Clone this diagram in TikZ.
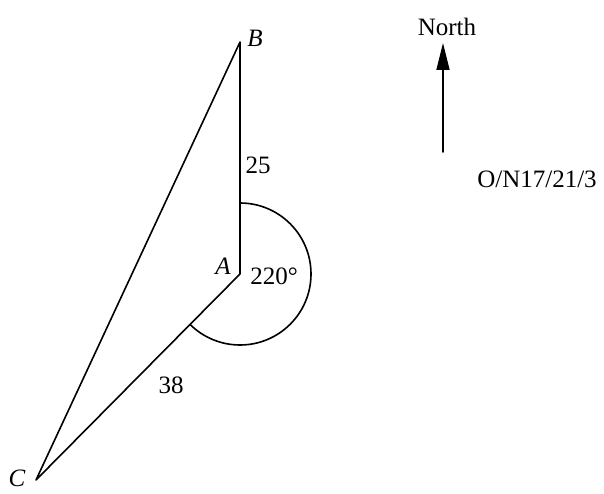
\documentclass[tikz,border=0pt]{standalone}
\usepackage{fontspec}
\setmainfont{Liberation Serif}
\usetikzlibrary{arrows.meta}
\begin{document}
\begin{tikzpicture}[x=1pt,y=1pt,
  edge/.style={line width=1.6pt, line cap=round, line join=round},
  lbl/.style={font=\fontsize{25}{28}\selectfont, inner sep=0pt}]
\useasboundingbox (0,0) rectangle (604,493);
\coordinate (A) at (240,219);
\coordinate (B) at (240,451);
\coordinate (C) at (36,13);
\draw[edge] (B) -- (A) -- (C) -- cycle;
\draw[edge] ([shift={(0,71)}]A) arc[start angle=90, end angle=-134.4, radius=71];
\coordinate (N1) at (443,341);
\coordinate (N2) at (443,450);
\draw[edge, -{Triangle[length=27pt,width=13pt]}] (N1) -- (N2);
\node[lbl] (lB) at (255,455) {\textit{B}};
\node[lbl] (lA) at (223,227) {\textit{A}};
\node[lbl] (lang) at (274,217) {220°};
\node[lbl] (l25) at (258,328) {25};
\node[lbl] (l38) at (171,108) {38};
\node[lbl, anchor=base] (lC) at (17,7) {\textit{C}};
\node[lbl] (lN) at (447,466) {North};
\node[lbl] (lref) at (537,314) {O/N17/21/3};
\end{tikzpicture}
\end{document}
